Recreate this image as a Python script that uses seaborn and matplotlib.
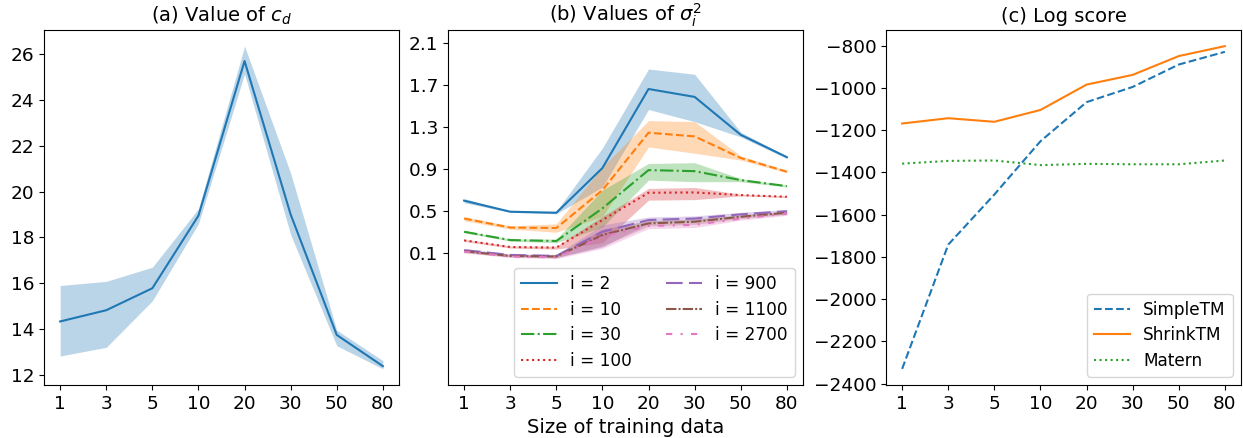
import numpy as np
import seaborn as sns
import matplotlib
matplotlib.use('Agg')
import matplotlib.pyplot as plt

# training data sizes (categorical x axis)
sizes = ['1', '3', '5', '10', '20', '30', '50', '80']

# (a) value of c_d : mean and band
cd_mean = [14.33, 14.82, 15.78, 18.95, 25.7, 19.0, 13.74, 12.38]
cd_low = [12.82, 13.2, 15.23, 18.6, 25.14, 18.12, 13.27, 12.26]
cd_high = [15.9, 16.08, 16.7, 19.25, 26.35, 20.8, 13.95, 12.62]

# (b) values of sigma_i^2 : mean, lower, upper per i
sig_labels = ['i = 2', 'i = 10', 'i = 30', 'i = 100', 'i = 900', 'i = 1100', 'i = 2700']
sig_i2 = [0.60, 0.495, 0.485, 0.91, 1.66, 1.585, 1.225, 1.013]
sig_i2_lo = [0.58, 0.49, 0.475, 0.73, 1.465, 1.35, 1.205, 1.0]
sig_i2_hi = [0.62, 0.50, 0.50, 1.10, 1.85, 1.80, 1.25, 1.02]
sig_i10 = [0.43, 0.345, 0.34, 0.70, 1.245, 1.21, 1.005, 0.875]
sig_i10_lo = [0.41, 0.33, 0.30, 0.45, 1.11, 1.05, 0.985, 0.865]
sig_i10_hi = [0.45, 0.36, 0.38, 0.92, 1.36, 1.35, 1.025, 0.885]
sig_i30 = [0.305, 0.226, 0.217, 0.527, 0.89, 0.88, 0.795, 0.738]
sig_i30_lo = [0.295, 0.216, 0.20, 0.35, 0.795, 0.78, 0.78, 0.73]
sig_i30_hi = [0.315, 0.236, 0.235, 0.70, 0.953, 0.96, 0.81, 0.746]
sig_i100 = [0.223, 0.16, 0.154, 0.416, 0.675, 0.678, 0.653, 0.637]
sig_i100_lo = [0.213, 0.15, 0.14, 0.20, 0.605, 0.61, 0.645, 0.63]
sig_i100_hi = [0.233, 0.17, 0.168, 0.45, 0.716, 0.725, 0.661, 0.645]
sig_i900 = [0.13, 0.085, 0.075, 0.305, 0.416, 0.43, 0.47, 0.50]
sig_i900_lo = [0.115, 0.075, 0.06, 0.16, 0.39, 0.40, 0.45, 0.485]
sig_i900_hi = [0.145, 0.095, 0.09, 0.37, 0.445, 0.455, 0.49, 0.515]
sig_i1100 = [0.12, 0.075, 0.07, 0.274, 0.384, 0.40, 0.447, 0.485]
sig_i1100_lo = [0.108, 0.065, 0.058, 0.17, 0.36, 0.375, 0.43, 0.47]
sig_i1100_hi = [0.132, 0.085, 0.082, 0.33, 0.41, 0.425, 0.465, 0.50]
sig_i2700 = [0.116, 0.07, 0.062, 0.26, 0.36, 0.37, 0.43, 0.476]
sig_i2700_lo = [0.104, 0.06, 0.05, 0.147, 0.335, 0.345, 0.415, 0.46]
sig_i2700_hi = [0.128, 0.08, 0.075, 0.32, 0.385, 0.395, 0.445, 0.49]

# (c) log score
simple_tm = [-2330, -1742, -1505, -1253, -1068, -996, -890, -830]
shrink_tm = [-1169, -1144, -1161, -1105, -985, -939, -850, -803]
matern = [-1359, -1346, -1344, -1366, -1360, -1362, -1362, -1344]

plt.rcParams['font.family'] = ['DejaVu Sans']
plt.rcParams['font.size'] = 14
pal = sns.color_palette('tab10')
x = np.arange(len(sizes))

fig = plt.figure(figsize=(12.43, 4.38), dpi=100)
ax1 = fig.add_axes([0.0354, 0.121, 0.2856, 0.8105])
ax2 = fig.add_axes([0.3604, 0.121, 0.2856, 0.8105])
ax3 = fig.add_axes([0.7128, 0.121, 0.2856, 0.8105])

leg_kw = dict(fontsize=12.2, labelspacing=0.45, handlelength=2.1,
              handletextpad=0.8, borderpad=0.4)

################ (a) ################
sns.lineplot(x=x, y=cd_mean, ax=ax1, color=pal[0], lw=1.5)
ax1.fill_between(x, cd_low, cd_high, color=pal[0], alpha=0.3, lw=0)
ax1.set_title('(a) Value of $c_d$', fontsize=14)
ax1.set_yticks([12, 14, 16, 18, 20, 22, 24, 26])

################ (b) ################
sig_means = [sig_i2, sig_i10, sig_i30, sig_i100, sig_i900, sig_i1100, sig_i2700]
sig_lows = [sig_i2_lo, sig_i10_lo, sig_i30_lo, sig_i100_lo, sig_i900_lo, sig_i1100_lo, sig_i2700_lo]
sig_highs = [sig_i2_hi, sig_i10_hi, sig_i30_hi, sig_i100_hi, sig_i900_hi, sig_i1100_hi, sig_i2700_hi]
styles = ['-', '--', '-.', ':', (0, (8, 3)), (0, (5, 1, 1, 1)), (0, (3, 4, 1, 4))]
for k in range(len(sig_labels)):
    sns.lineplot(x=x, y=sig_means[k], ax=ax2, color=pal[k], lw=1.5,
                 linestyle=styles[k], label=sig_labels[k])
    ax2.fill_between(x, sig_lows[k], sig_highs[k], color=pal[k], alpha=0.3, lw=0)
ax2.set_ylim(-1.15, 2.22)
ax2.set_yticks([0.1, 0.5, 0.9, 1.3, 1.7, 2.1])
ax2.set_title('(b) Values of $\\sigma_i^2$', fontsize=14)
ax2.set_xlabel('Size of training data', fontsize=14)
ax2.legend(loc='lower right', ncol=2, columnspacing=2.0, **leg_kw)

################ (c) ################
sns.lineplot(x=x, y=simple_tm, ax=ax3, color=pal[0], lw=1.5, linestyle='--', label='SimpleTM')
sns.lineplot(x=x, y=shrink_tm, ax=ax3, color=pal[1], lw=1.5, linestyle='-', label='ShrinkTM')
sns.lineplot(x=x, y=matern, ax=ax3, color=pal[2], lw=1.5, linestyle=':', label='Matern')
ax3.set_title('(c) Log score', fontsize=14)
ax3.set_yticks([-2400, -2200, -2000, -1800, -1600, -1400, -1200, -1000, -800])
ax3.legend(loc='lower right', **leg_kw)

for ax in [ax1, ax2, ax3]:
    ax.set_xticks(x)
    ax.set_xticklabels(sizes)
    ax.tick_params(labelsize=13.3)

fig.savefig('out.png', dpi=100)
